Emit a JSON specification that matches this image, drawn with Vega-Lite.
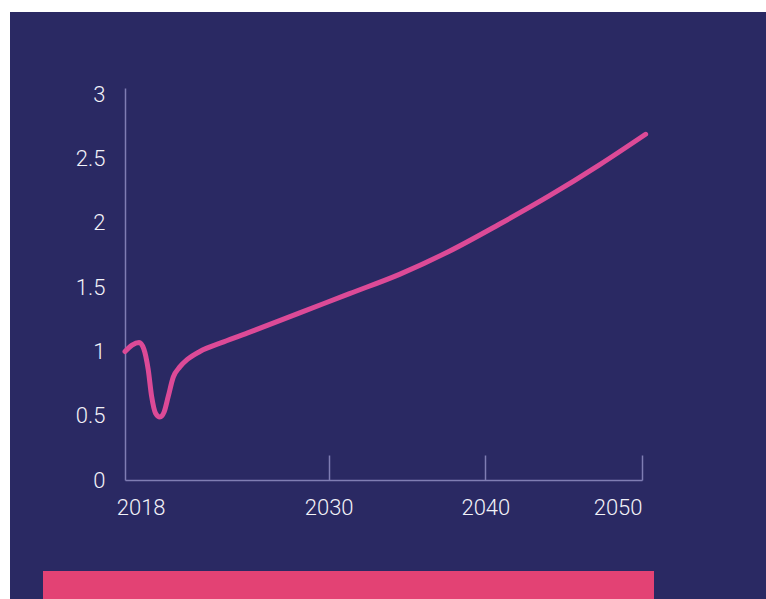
{
  "$schema": "https://vega.github.io/schema/vega-lite/v6.json",
  "background": "white",
  "padding": {"left": 10, "top": 12, "right": 0, "bottom": 0},
  "autosize": {"type": "pad"},
  "spacing": 0,
  "config": {
    "view": {"stroke": null},
    "concat": {"spacing": 0},
    "axis": {
      "labelFont": "Roboto, sans-serif",
      "labelFontSize": 22,
      "labelFontWeight": 300,
      "labelColor": "#f2f2f8",
      "domainColor": "#7f7db3",
      "domainWidth": 1.5,
      "tickColor": "#7f7db3",
      "tickWidth": 1.5,
      "grid": false,
      "title": null
    }
  },
  "datasets": {
    "series": [
      {"year": 2017.0, "value": 1.00},
      {"year": 2017.45, "value": 1.05},
      {"year": 2017.9, "value": 1.07},
      {"year": 2018.2, "value": 1.02},
      {"year": 2018.48, "value": 0.86},
      {"year": 2018.7, "value": 0.65},
      {"year": 2018.95, "value": 0.52},
      {"year": 2019.23, "value": 0.49},
      {"year": 2019.5, "value": 0.53},
      {"year": 2019.76, "value": 0.65},
      {"year": 2020.08, "value": 0.80},
      {"year": 2020.5, "value": 0.88},
      {"year": 2021.0, "value": 0.94},
      {"year": 2021.78, "value": 1.00},
      {"year": 2023.3, "value": 1.075},
      {"year": 2024.96, "value": 1.15},
      {"year": 2028.15, "value": 1.30},
      {"year": 2031.33, "value": 1.45},
      {"year": 2034.52, "value": 1.60},
      {"year": 2037.7, "value": 1.78},
      {"year": 2040.89, "value": 1.99},
      {"year": 2044.07, "value": 2.21},
      {"year": 2047.26, "value": 2.45},
      {"year": 2050.23, "value": 2.69}
    ]
  },
  "vconcat": [
    {
      "width": 756,
      "height": 559,
      "view": {"fill": "#2a2963", "stroke": null},
      "data": {"name": "series"},
      "mark": {"type": "line", "color": "#dc4a97", "strokeWidth": 5, "strokeCap": "round", "interpolate": "monotone", "clip": false},
      "encoding": {
        "x": {
          "field": "year", "type": "quantitative",
          "scale": {"domain": [2017, 2050], "range": [115, 632], "nice": false, "zero": false},
          "axis": {
            "orient": "bottom",
            "offset": -91,
            "values": [2018, 2030, 2040, 2050],
            "format": "d",
            "tickSize": -25,
            "tickOpacity": {"condition": {"test": "datum.value == 2018", "value": 0}, "value": 1},
            "labelPadding": 42,
            "labelFlush": true,
            "labelOverlap": false
          }
        },
        "y": {
          "field": "value", "type": "quantitative",
          "scale": {"domain": [0, 3.05], "range": [468, 76], "nice": false, "zero": false},
          "axis": {
            "orient": "left",
            "offset": -115,
            "values": [0, 0.5, 1, 1.5, 2, 2.5, 3],
            "format": "~g",
            "ticks": false,
            "tickSize": 0,
            "labelPadding": 20,
            "labelFlush": false,
            "labelOverlap": false
          }
        }
      }
    },
    {
      "spacing": 0,
      "hconcat": [
        {
          "width": 33, "height": 28,
          "view": {"fill": "#2a2963", "stroke": null},
          "data": {"values": [{}]},
          "mark": {"type": "rect", "color": "#2a2963"}
        },
        {
          "width": 611, "height": 28,
          "view": {"fill": "#e34274", "stroke": null},
          "data": {"values": [{}]},
          "mark": {"type": "rect", "color": "#e34274"}
        },
        {
          "width": 112, "height": 28,
          "view": {"fill": "#2a2963", "stroke": null},
          "data": {"values": [{}]},
          "mark": {"type": "rect", "color": "#2a2963"}
        }
      ]
    }
  ]
}
